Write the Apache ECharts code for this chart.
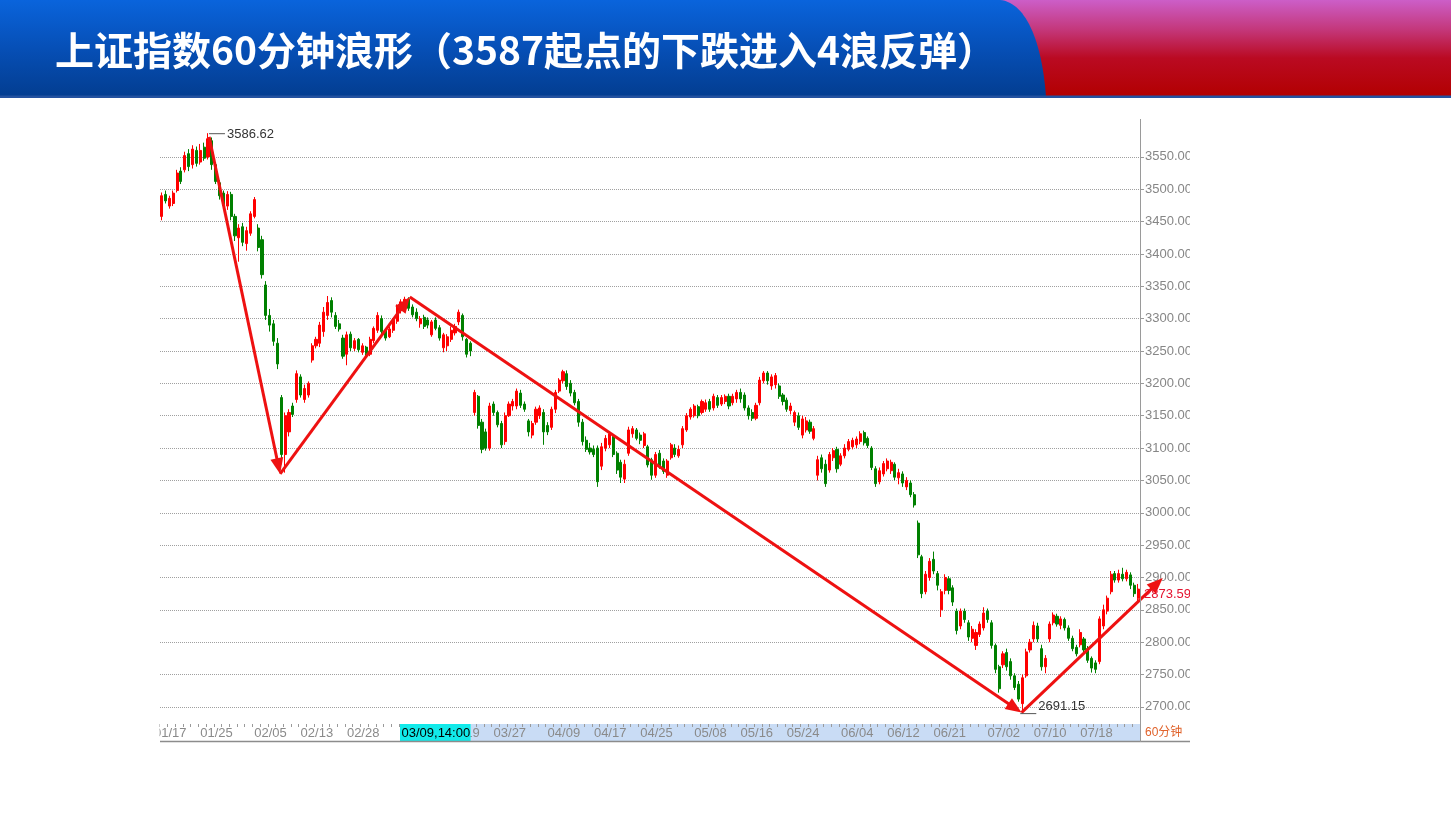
<!DOCTYPE html>
<html><head><meta charset="utf-8">
<script src="https://cdn.jsdelivr.net/npm/echarts@6/dist/echarts.min.js"></script>
<style>html,body{margin:0;padding:0;background:#fff}#c{width:1451px;height:816px}</style>
</head><body><div id="c"></div>
<script>
// ---------- data ----------
const tradingDays = ['01/17','01/18','01/19','01/22','01/23','01/24','01/25','01/26','01/29','01/30','01/31',
'02/01','02/02','02/05','02/06','02/07','02/08','02/09','02/12','02/13','02/14','02/22','02/23','02/26','02/27','02/28',
'03/01','03/02','03/05','03/06','03/07','03/08','03/09','03/12','03/13','03/14','03/15','03/16','03/19','03/20','03/21','03/22','03/23','03/26','03/27','03/28','03/29','03/30',
'04/02','04/03','04/04','04/09','04/10','04/11','04/12','04/13','04/16','04/17','04/18','04/19','04/20','04/23','04/24','04/25','04/26','04/27',
'05/02','05/03','05/04','05/07','05/08','05/09','05/10','05/11','05/14','05/15','05/16','05/17','05/18','05/21','05/22','05/23','05/24','05/25','05/28','05/29','05/30','05/31',
'06/01','06/04','06/05','06/06','06/07','06/08','06/11','06/12','06/13','06/14','06/15','06/19','06/20','06/21','06/22','06/25','06/26','06/27','06/28','06/29',
'07/02','07/03','07/04','07/05','07/06','07/09','07/10','07/11','07/12','07/13','07/16','07/17','07/18','07/19','07/20','07/23','07/24','07/25','07/26','07/27'];
const timeSlots = ['11:30','15:00'];
const labeledDates = ['01/17','01/25','02/05','02/13','02/28','03/09','03/19','03/27','04/09','04/17','04/25','05/08','05/16','05/24','06/04','06/12','06/21','07/02','07/10','07/18'];

const openPrices = [null,null,
3458,3492,3474,3478,3498,3528,3530,3555,3538,3560,
3542,3565,3550,3575,3538,3510,3494,3474,3492,3458,
3425,3442,3416,3432,3458,3440,3422,3352,3305,3292,
3262,3178,3090,3125,3165,3175,3210,3175,3182,3236,
3258,3262,3280,3305,3328,3305,3292,3270,3245,3276,
3254,3268,3248,3256,3245,3266,3282,3300,3282,3272,
3282,3296,3312,3324,3330,3318,3310,3292,3302,3298,
3275,3298,3286,3255,3258,3268,3278,3295,3305,3268,
3262,3155,3180,3140,3125,3100,3168,3155,3138,3110,
3150,3165,3165,3185,3168,3142,3120,3140,3150,3155,
3135,3132,3160,3188,3204,3215,3200,3186,3172,3140,
3112,3100,3098,3100,3072,3100,3105,3118,3092,3078,
3052,3092,3122,3128,3120,3104,3102,3082,3058,3092,
3080,3058,3085,3100,3088,3105,3128,3148,3150,3164,
3155,3160,3172,3162,3178,3168,3172,3180,3170,3176,
3186,3182,3162,3155,3146,3170,3204,3216,3196,3198,
3196,3182,3174,3158,3140,3150,3120,3128,3140,3115,
3058,3085,3075,3066,3085,3098,3075,3088,3098,3102,
3105,3110,3124,3115,3100,3068,3048,3060,3068,3065,
3075,3054,3060,3040,3046,3028,2984,2932,2878,2900,
2928,2906,2850,2880,2898,2884,2848,2825,2848,2830,
2806,2795,2812,2822,2848,2830,2795,2762,2765,2784,
2770,2748,2735,2705,2748,2788,2805,2825,2790,2762,
2805,2830,2840,2826,2835,2822,2806,2792,2796,2805,
2790,2775,2768,2770,2825,2848,2878,2906,2896,2905,
2898,2904,2888,2868,2882,null];

const closePrices = [null,null,
3490,3482,3486,3494,3525,3512,3552,3535,3562,3540,
3560,3548,3578,3538,3512,3490,3475,3492,3458,3428,
3440,3418,3436,3462,3484,3410,3368,3305,3290,3265,
3230,3090,3150,3155,3152,3215,3182,3192,3200,3258,
3268,3290,3310,3325,3310,3288,3284,3242,3275,3255,
3266,3252,3258,3246,3268,3285,3305,3280,3270,3284,
3298,3318,3326,3330,3316,3306,3300,3300,3288,3290,
3295,3285,3270,3275,3272,3282,3288,3310,3272,3245,
3250,3186,3135,3098,3100,3165,3155,3136,3105,3150,
3168,3172,3188,3166,3160,3125,3138,3160,3162,3125,
3125,3160,3186,3205,3218,3195,3185,3170,3140,3110,
3098,3094,3090,3048,3102,3115,3122,3090,3066,3055,
3075,3128,3130,3115,3112,3122,3074,3058,3090,3072,
3064,3080,3105,3090,3098,3130,3150,3160,3165,3150,
3172,3170,3160,3180,3166,3178,3180,3165,3180,3186,
3176,3162,3150,3146,3166,3205,3216,3204,3210,3212,
3180,3172,3160,3165,3155,3132,3145,3142,3126,3130,
3082,3068,3045,3090,3096,3068,3088,3100,3110,3112,
3114,3122,3108,3104,3070,3045,3065,3076,3080,3078,
3055,3062,3046,3050,3028,3012,2935,2875,2905,2925,
2910,2888,2878,2900,2880,2862,2818,2848,2835,2808,
2820,2815,2828,2845,2835,2795,2758,2728,2782,2762,
2748,2730,2712,2745,2785,2800,2826,2805,2762,2775,
2828,2842,2828,2836,2822,2806,2790,2782,2815,2788,
2772,2760,2758,2836,2850,2868,2905,2896,2906,2898,
2908,2888,2875,2882,2873.59,null];

const lowPrices = [null,null,
3452,3478,3470,3474,3495,3508,3526,3528,3532,3535,
3538,3544,3546,3530,3508,3484,3470,3468,3452,3420,
3388,3412,3405,3428,3455,3404,3362,3298,3280,3258,
3222,3075,3062,3118,3148,3170,3178,3170,3178,3232,
3254,3256,3272,3298,3302,3284,3280,3238,3228,3250,
3250,3248,3244,3240,3242,3262,3278,3274,3266,3270,
3278,3292,3308,3318,3312,3302,3296,3286,3284,3285,
3272,3282,3266,3248,3250,3264,3274,3290,3266,3240,
3242,3150,3130,3092,3096,3096,3150,3132,3100,3105,
3148,3158,3160,3162,3156,3118,3115,3136,3145,3105,
3120,3128,3154,3185,3200,3190,3180,3166,3133,3104,
3094,3090,3086,3040,3066,3095,3100,3086,3060,3046,
3046,3088,3116,3112,3106,3100,3070,3051,3054,3068,
3060,3054,3082,3086,3085,3100,3125,3144,3147,3146,
3152,3156,3156,3158,3162,3165,3168,3160,3166,3170,
3170,3158,3144,3142,3143,3166,3200,3198,3190,3192,
3176,3166,3156,3152,3134,3128,3115,3124,3122,3112,
3050,3062,3040,3062,3080,3062,3072,3084,3095,3098,
3100,3106,3104,3100,3066,3040,3044,3056,3064,3060,
3050,3044,3040,3035,3024,3008,2930,2868,2874,2895,
2905,2880,2839,2874,2874,2856,2812,2820,2830,2802,
2800,2788,2808,2818,2830,2790,2752,2722,2760,2756,
2742,2726,2708,2691.15,2745,2784,2800,2800,2756,2752,
2800,2826,2824,2820,2818,2802,2786,2778,2792,2784,
2768,2753,2752,2766,2820,2843,2874,2892,2892,2894,
2894,2882,2870,2862,2868,null];

const highPrices = [null,null,
3495,3498,3490,3498,3530,3534,3558,3562,3568,3566,
3570,3572,3586.62,3580,3542,3514,3498,3497,3496,3462,
3446,3448,3442,3466,3488,3446,3428,3358,3315,3298,
3270,3182,3155,3160,3170,3220,3214,3198,3203,3262,
3272,3295,3318,3335,3333,3310,3298,3275,3280,3280,
3270,3270,3262,3258,3272,3288,3310,3305,3285,3288,
3301,3322,3330,3333.88,3333,3322,3316,3304,3306,3302,
3298,3302,3290,3278,3276,3288,3292,3314,3308,3270,
3265,3190,3182,3145,3130,3170,3172,3158,3142,3155,
3172,3176,3192,3190,3172,3145,3142,3164,3166,3160,
3140,3164,3190,3208,3221,3220,3205,3190,3176,3145,
3118,3108,3104,3104,3108,3120,3126,3122,3095,3082,
3082,3133,3134,3131,3124,3125,3105,3085,3094,3097,
3084,3083,3108,3106,3104,3134,3154,3163,3168,3167,
3175,3175,3176,3184,3182,3182,3183,3184,3184,3190,
3192,3186,3166,3160,3170,3210,3219,3219,3214,3216,
3200,3185,3178,3170,3158,3155,3150,3148,3144,3134,
3088,3090,3082,3094,3100,3102,3092,3106,3114,3116,
3118,3126,3127,3118,3103,3072,3070,3080,3084,3082,
3078,3068,3064,3055,3050,3032,2988,2935,2910,2930,
2940,2910,2882,2905,2902,2888,2852,2852,2852,2834,
2825,2820,2832,2854,2852,2834,2798,2765,2786,2790,
2775,2752,2740,2750,2790,2805,2832,2830,2796,2780,
2832,2846,2844,2840,2838,2826,2810,2796,2820,2808,
2794,2778,2772,2840,2858,2872,2910,2910,2912,2915,
2912,2908,2892,2890,2885,null];

const lastValue = 2873.59;
// wave turning points: [bar position, price]
const wavePoints = [[14.3,3581],[32.7,3060],[66.3,3333.6],[224.8,2691.15],[261.4,2899]];
const cursorLabel = '03/09,14:00';
const periodLabel = '60分钟';
const titleText = '上证指数60分钟浪形（3587起点的下跌进入4浪反弹）';

// ---------- build ----------
const categories = [];
tradingDays.forEach(d => timeSlots.forEach(t => categories.push(d + ',' + t)));
const candleData = openPrices.map((o, i) => o == null ? '-' : [o, closePrices[i], lowPrices[i], highPrices[i]]);
const labelSet = new Set(labeledDates);

const GL = 152, GW = 988, GR = GL + GW;
const chart = echarts.init(document.getElementById('c'), null, {renderer: 'canvas'});
const font = 'Liberation Sans, Arial, "Noto Sans CJK SC", sans-serif';

chart.setOption({
  animation: false,
  backgroundColor: '#ffffff',
  grid: [
    {left: GL, top: 125.18, width: GW, height: 614.06},
    {left: GL, top: 724, width: GW, height: 17}
  ],
  xAxis: [
    {type: 'category', gridIndex: 0, data: categories, boundaryGap: true, show: false},
    {type: 'category', gridIndex: 1, data: categories, boundaryGap: true, position: 'top', z: 5,
      axisLine: {show: false, onZero: false},
      axisTick: {show: true, inside: true, length: 3, interval: i => i % 2 === 0, lineStyle: {color: '#9a9a9a'}},
      axisLabel: {inside: true, margin: 3, align: 'left', verticalAlign: 'top', color: '#8a8a8a', fontSize: 13, fontFamily: font,
        interval: (i, v) => labelSet.has(v.split(',')[0]) && v.split(',')[1] === timeSlots[0],
        formatter: v => v.split(',')[0]},
      splitLine: {show: false}}
  ],
  yAxis: [
    {type: 'value', gridIndex: 0, position: 'right', min: 2650, max: 3599, interval: 50,
      axisLine: {show: false},
      axisTick: {show: true, length: 4, lineStyle: {color: '#9a9a9a'}},
      axisLabel: {showMinLabel: false, showMaxLabel: false, margin: 5, color: '#868686', fontSize: 13, fontFamily: font,
        formatter: v => v.toFixed(2)},
      splitLine: {show: true, showMinLine: false, showMaxLine: false, lineStyle: {type: 'dotted', color: '#a0a0a0', width: 1}}},
    {type: 'value', gridIndex: 1, show: false}
  ],
  series: [{
    type: 'candlestick', xAxisIndex: 0, yAxisIndex: 0, data: candleData, barWidth: 2.6, silent: true,
    itemStyle: {color: '#ff0000', color0: '#008000', borderColor: '#ff0000', borderColor0: '#008000', borderWidth: 1}
  }]
});

function px(pos, val) {
  const p0 = chart.convertToPixel({gridIndex: 0}, [0, val]);
  const p1 = chart.convertToPixel({gridIndex: 0}, [1, val]);
  return [p0[0] + (p1[0] - p0[0]) * pos, p0[1]];
}

const g = [];
// header
g.push({type: 'rect', z: 0, shape: {x: 960, y: 0, width: 491, height: 97},
  style: {fill: new echarts.graphic.LinearGradient(0, 0, 0, 1, [
    {offset: 0, color: '#cc5ec8'}, {offset: 0.3, color: '#c4387c'}, {offset: 0.6, color: '#ba0a22'}, {offset: 1, color: '#b20000'}])}});
const bluePts = [[0, 0]];
for (let s = 0; s <= 30; s++) {
  const t = s / 30, u = 1 - t;
  bluePts.push([u*u*u*1000 + 3*u*u*t*1025 + 3*u*t*t*1042 + t*t*t*1046, 3*u*u*t*2 + 3*u*t*t*40 + t*t*t*97]);
}
bluePts.push([0, 97]);
g.push({type: 'polygon', z: 1, shape: {points: bluePts},
  style: {fill: new echarts.graphic.LinearGradient(0, 0, 0, 1, [
    {offset: 0, color: '#0a64dc'}, {offset: 0.5, color: '#064fb6'}, {offset: 1, color: '#033d90'}])}});
g.push({type: 'rect', z: 2, shape: {x: 0, y: 95.5, width: 1451, height: 2.5}, style: {fill: '#2452a0'}});
g.push({type: 'text', z: 3, x: 55, y: 50, style: {text: titleText, fill: '#ffffff', font: 'bold 39px "Noto Sans CJK SC", sans-serif', verticalAlign: 'middle', align: 'left'}});

// date strip
g.push({type: 'rect', z: -1, shape: {x: 470.7, y: 724, width: GR - 470.7, height: 17}, style: {fill: '#c9dcf5'}});
g.push({type: 'rect', z: 20, shape: {x: 400, y: 724, width: 70.7, height: 17}, style: {fill: '#12eaea'}});
g.push({type: 'text', z: 21, x: 401.5, y: 733, style: {text: cursorLabel, fill: '#000', fontSize: 13, fontFamily: font, verticalAlign: 'middle'}});
g.push({type: 'line', z: 21, shape: {x1: 160, y1: 741.5, x2: 1190, y2: 741.5}, style: {stroke: '#8c8c8c', lineWidth: 1.5}});
g.push({type: 'line', z: 21, shape: {x1: GR + 0.5, y1: 119, x2: GR + 0.5, y2: 742}, style: {stroke: '#9a9a9a', lineWidth: 1}});
g.push({type: 'text', z: 21, x: 1145, y: 733, style: {text: periodLabel, fill: '#e0622a', fontSize: 12, fontFamily: font, verticalAlign: 'middle'}});

// last price label
const lp = px(0, lastValue);
g.push({type: 'text', z: 15, x: 1144, y: lp[1], style: {text: lastValue.toFixed(2), fill: '#e41430', fontSize: 13, fontFamily: font, verticalAlign: 'middle'}});

// peak / low annotations
const highs = highPrices.map(v => v == null ? -Infinity : v);
const lows = lowPrices.map(v => v == null ? Infinity : v);
const peakIdx = highs.indexOf(Math.max(...highs));
const lowIdx = lows.indexOf(Math.min(...lows));
const pk = px(peakIdx, highPrices[peakIdx]);
g.push({type: 'line', z: 12, shape: {x1: pk[0] + 1, y1: pk[1] + 0.5, x2: pk[0] + 17, y2: pk[1] + 0.5}, style: {stroke: '#555', lineWidth: 1}});
g.push({type: 'text', z: 12, x: pk[0] + 19, y: pk[1] + 1, style: {text: highPrices[peakIdx].toFixed(2), fill: '#333', fontSize: 13, fontFamily: font, verticalAlign: 'middle'}});
const lw = px(lowIdx, lowPrices[lowIdx]);
g.push({type: 'line', z: 12, shape: {x1: lw[0] - 2, y1: lw[1] + 1, x2: lw[0] + 14, y2: lw[1] + 1}, style: {stroke: '#555', lineWidth: 1}});
g.push({type: 'text', z: 12, x: lw[0] + 16, y: lw[1] - 6, style: {text: lowPrices[lowIdx].toFixed(2), fill: '#333', fontSize: 13, fontFamily: font, verticalAlign: 'middle'}});

// wave arrows
const wp = wavePoints.map(p => px(p[0], p[1]));
for (let j = 0; j < wp.length - 1; j++) {
  const a = wp[j], b = wp[j + 1];
  const dx = b[0] - a[0], dy = b[1] - a[1], len = Math.hypot(dx, dy);
  const ux = dx / len, uy = dy / len, nx = -uy, ny = ux;
  const hl = 16, hw = 6.5;
  const bx = b[0] - ux * hl, by = b[1] - uy * hl;
  g.push({type: 'line', z: 10, shape: {x1: a[0], y1: a[1], x2: bx + ux * 3, y2: by + uy * 3}, style: {stroke: '#ee1111', lineWidth: 3}});
  g.push({type: 'polygon', z: 10, shape: {points: [[b[0], b[1]], [bx + nx * hw, by + ny * hw], [bx - nx * hw, by - ny * hw]]}, style: {fill: '#ee1111'}});
}

// crop masks
g.push({type: 'rect', z: 20, shape: {x: 0, y: 99, width: 159.5, height: 700}, style: {fill: '#ffffff'}});
g.push({type: 'rect', z: 20, shape: {x: 1190, y: 99, width: 261, height: 700}, style: {fill: '#ffffff'}});

chart.setOption({graphic: g});
</script></body></html>
